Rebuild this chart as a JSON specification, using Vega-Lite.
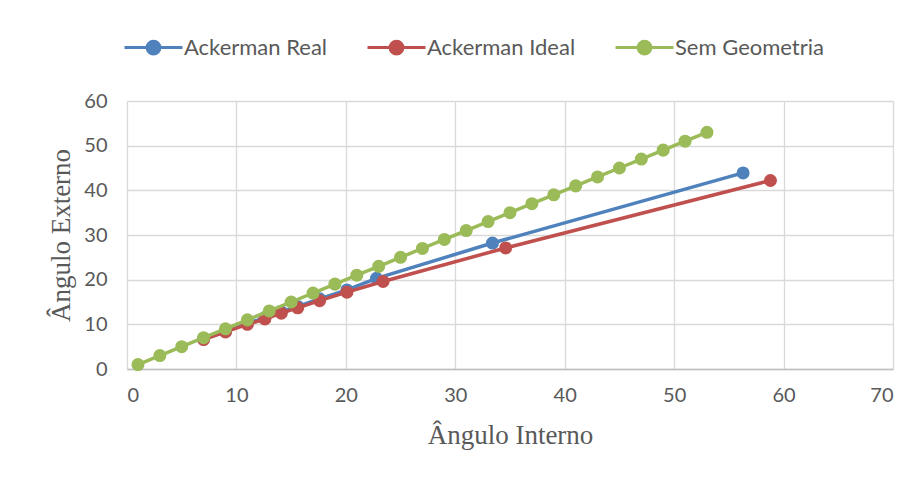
{
  "$schema": "https://vega.github.io/schema/vega-lite/v6.json",
  "autosize": {"type": "none"},
  "width": 766,
  "height": 268,
  "padding": {"left": 127, "top": 101, "right": 26, "bottom": 109},
  "background": "white",
  "config": {
    "view": {"stroke": null},
    "axis": {
      "labelFont": "Lato",
      "labelFontSize": 20,
      "labelColor": "#595959",
      "titleFont": "Liberation Serif",
      "titleFontSize": 27,
      "titleFontWeight": "normal",
      "titleColor": "#595959",
      "gridColor": "#d9d9d9",
      "gridWidth": 1.3,
      "ticks": false
    }
  },
  "data": {
    "values": [
      {"serie": "Ackerman Real", "interno": 7, "externo": 6.8},
      {"serie": "Ackerman Real", "interno": 9, "externo": 8.5},
      {"serie": "Ackerman Real", "interno": 11, "externo": 10.2},
      {"serie": "Ackerman Real", "interno": 12.6, "externo": 11.5},
      {"serie": "Ackerman Real", "interno": 14.1, "externo": 12.8},
      {"serie": "Ackerman Real", "interno": 15.6, "externo": 14.0},
      {"serie": "Ackerman Real", "interno": 17.6, "externo": 15.7},
      {"serie": "Ackerman Real", "interno": 20.1, "externo": 17.7},
      {"serie": "Ackerman Real", "interno": 22.8, "externo": 20.3},
      {"serie": "Ackerman Real", "interno": 33.4, "externo": 28.2},
      {"serie": "Ackerman Real", "interno": 56.3, "externo": 43.9},
      {"serie": "Ackerman Ideal", "interno": 7, "externo": 6.6},
      {"serie": "Ackerman Ideal", "interno": 9, "externo": 8.3},
      {"serie": "Ackerman Ideal", "interno": 11, "externo": 10.0},
      {"serie": "Ackerman Ideal", "interno": 12.6, "externo": 11.2},
      {"serie": "Ackerman Ideal", "interno": 14.1, "externo": 12.5},
      {"serie": "Ackerman Ideal", "interno": 15.6, "externo": 13.7},
      {"serie": "Ackerman Ideal", "interno": 17.6, "externo": 15.3},
      {"serie": "Ackerman Ideal", "interno": 20.1, "externo": 17.2},
      {"serie": "Ackerman Ideal", "interno": 23.4, "externo": 19.6},
      {"serie": "Ackerman Ideal", "interno": 34.6, "externo": 27.1},
      {"serie": "Ackerman Ideal", "interno": 58.8, "externo": 42.2},
      {"serie": "Sem Geometria", "interno": 1, "externo": 1},
      {"serie": "Sem Geometria", "interno": 3, "externo": 3},
      {"serie": "Sem Geometria", "interno": 5, "externo": 5},
      {"serie": "Sem Geometria", "interno": 7, "externo": 7},
      {"serie": "Sem Geometria", "interno": 9, "externo": 9},
      {"serie": "Sem Geometria", "interno": 11, "externo": 11},
      {"serie": "Sem Geometria", "interno": 13, "externo": 13},
      {"serie": "Sem Geometria", "interno": 15, "externo": 15},
      {"serie": "Sem Geometria", "interno": 17, "externo": 17},
      {"serie": "Sem Geometria", "interno": 19, "externo": 19},
      {"serie": "Sem Geometria", "interno": 21, "externo": 21},
      {"serie": "Sem Geometria", "interno": 23, "externo": 23},
      {"serie": "Sem Geometria", "interno": 25, "externo": 25},
      {"serie": "Sem Geometria", "interno": 27, "externo": 27},
      {"serie": "Sem Geometria", "interno": 29, "externo": 29},
      {"serie": "Sem Geometria", "interno": 31, "externo": 31},
      {"serie": "Sem Geometria", "interno": 33, "externo": 33},
      {"serie": "Sem Geometria", "interno": 35, "externo": 35},
      {"serie": "Sem Geometria", "interno": 37, "externo": 37},
      {"serie": "Sem Geometria", "interno": 39, "externo": 39},
      {"serie": "Sem Geometria", "interno": 41, "externo": 41},
      {"serie": "Sem Geometria", "interno": 43, "externo": 43},
      {"serie": "Sem Geometria", "interno": 45, "externo": 45},
      {"serie": "Sem Geometria", "interno": 47, "externo": 47},
      {"serie": "Sem Geometria", "interno": 49, "externo": 49},
      {"serie": "Sem Geometria", "interno": 51, "externo": 51},
      {"serie": "Sem Geometria", "interno": 53, "externo": 53}
    ]
  },
  "encoding": {
    "x": {
      "field": "interno", "type": "quantitative",
      "scale": {"domain": [0, 70], "nice": false},
      "axis": {"values": [0, 10, 20, 30, 40, 50, 60, 70], "title": "Ângulo Interno", "labelPadding": 16, "titlePadding": 17, "domain": true, "domainColor": "#bfbfbf", "domainWidth": 1.3}
    },
    "y": {
      "field": "externo", "type": "quantitative",
      "scale": {"domain": [0, 60], "nice": false},
      "axis": {"values": [0, 10, 20, 30, 40, 50, 60], "title": "Ângulo Externo", "labelPadding": 20, "titlePadding": 8, "domain": false}
    },
    "color": {
      "field": "serie", "type": "nominal",
      "scale": {"domain": ["Ackerman Real", "Ackerman Ideal", "Sem Geometria"], "range": ["#4F81BD", "#C0504D", "#9BBB59"]},
      "legend": {
        "title": null,
        "orient": "none",
        "direction": "horizontal",
        "legendX": -4,
        "legendY": -84,
        "symbolType": "M-1,0L1,0M-0.22,0A0.22,0.22,0,1,0,0.22,0A0.22,0.22,0,1,0,-0.22,0Z",
        "symbolSize": 3364,
        "symbolStrokeWidth": 3,
        "labelFont": "Lato",
        "labelFontSize": 22,
        "labelColor": "#595959",
        "labelOffset": 0,
        "columnPadding": 33,
        "encode": {
          "symbols": {"update": {"fill": {"scale": "color", "field": "value"}, "stroke": {"scale": "color", "field": "value"}, "strokeWidth": {"value": 3}, "opacity": {"value": 1}}}
        }
      }
    }
  },
  "layer": [
    {"transform": [{"filter": "datum.serie === 'Ackerman Real'"}], "mark": {"type": "line", "strokeWidth": 3.5, "point": {"filled": true, "size": 170, "opacity": 1}}},
    {"transform": [{"filter": "datum.serie === 'Ackerman Ideal'"}], "mark": {"type": "line", "strokeWidth": 3.5, "point": {"filled": true, "size": 170, "opacity": 1}}},
    {"transform": [{"filter": "datum.serie === 'Sem Geometria'"}], "mark": {"type": "line", "strokeWidth": 3.5, "point": {"filled": true, "size": 170, "opacity": 1}}}
  ]
}
